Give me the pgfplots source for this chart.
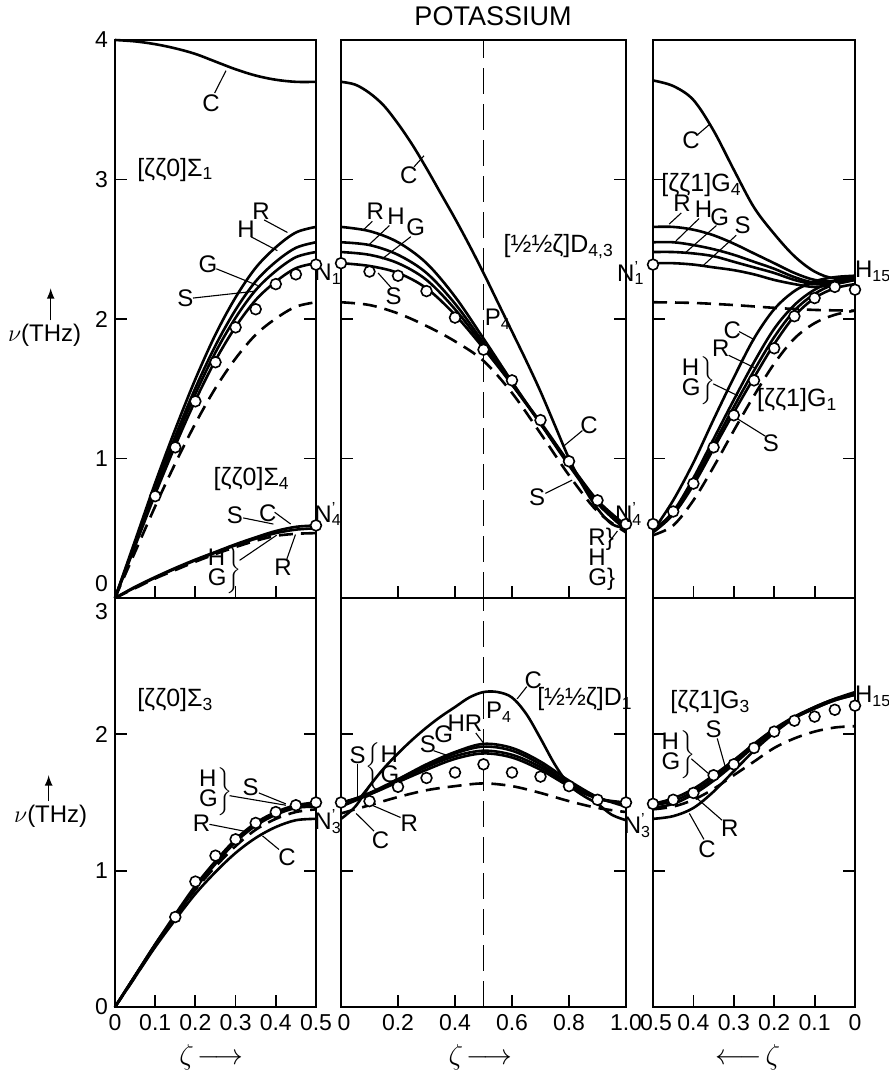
\documentclass[border=0pt]{standalone}
\usepackage{fontspec}
\setmainfont{Liberation Sans}
\usepackage{pgfplots}
\pgfplotsset{compat=1.18}
\newcommand{\lbl}{\fontsize{12}{13}\selectfont}
\newcommand{\ttl}{\fontsize{12.5}{14}\selectfont}
\newcommand{\tck}{\fontsize{11.5}{13}\selectfont}
\newcommand{\Np}[1]{N\rlap{\textsuperscript{\textquoteright}}\textsubscript{#1}}
\newcommand{\HG}{$\left.\begin{tabular}{@{}l@{}}H\\[-3pt]G\end{tabular}\right\}$}
\newcommand{\GH}{$\left\{\begin{tabular}{@{}l@{}}H\\[-3pt]G\end{tabular}\right.$}
\tikzset{
  cur/.style={line width=1.3pt, smooth, tension=0.55},
  das/.style={cur, dash pattern=on 7pt off 4pt},
  dat/.style={only marks, mark=*, mark size=2.7pt, mark options={fill=white, draw=black, line width=0.8pt, solid}},
  lead/.style={line width=0.55pt},
  lab/.style={font=\lbl, inner sep=0pt},
  pt/.style={font=\ttl, inner sep=0pt},
  vdash/.style={line width=0.9pt, dash pattern=on 13pt off 5pt},
}
\pgfplotsset{
  panel/.style={scale only axis, clip=false, anchor=south west,
    axis line style={line width=1.1pt},
    tick style={black, line width=0.9pt},
    major tick length=6pt, tick align=inside,
    xtick pos=left, ytick pos=both, yticklabel pos=left,
    tick label style={font=\tck},
  },
}
\begin{document}
\begin{tikzpicture}
\path[use as bounding box] (0,0) rectangle (444pt,537.5pt);
\node[font=\fontsize{13.5}{15}\selectfont] at (246.5pt,529.5pt) {POTASSIUM};

% ---------------- top left ----------------
\begin{axis}[panel, at={(57.5pt,238.5pt)}, width=100.5pt, height=279pt,
  xmin=0, xmax=0.5, ymin=0, ymax=4,
  xtick={0.1,0.2,0.3,0.4}, xticklabels={},
  ytick={1,2,3,4}, yticklabels={1,2,3,4}]
\addplot[cur] coordinates {(0,4.00)(0.05,3.99)(0.1,3.97)(0.15,3.94)(0.2,3.90)(0.25,3.845)(0.3,3.79)(0.35,3.745)(0.4,3.715)(0.45,3.70)(0.5,3.70)};
\addplot[cur] coordinates {(0,0)(0.05,0.412)(0.1,0.825)(0.15,1.21)(0.2,1.569)(0.25,1.889)(0.3,2.155)(0.35,2.367)(0.4,2.514)(0.45,2.62)(0.5,2.66)};
\addplot[cur] coordinates {(0,0)(0.05,0.395)(0.1,0.79)(0.15,1.16)(0.2,1.505)(0.25,1.81)(0.3,2.066)(0.35,2.27)(0.4,2.41)(0.45,2.51)(0.5,2.55)};
\addplot[cur] coordinates {(0,0)(0.05,0.384)(0.1,0.769)(0.15,1.128)(0.2,1.463)(0.25,1.761)(0.3,2.009)(0.35,2.207)(0.4,2.344)(0.45,2.443)(0.5,2.48)};
\addplot[cur] coordinates {(0,0)(0.05,0.372)(0.1,0.744)(0.15,1.092)(0.2,1.416)(0.25,1.704)(0.3,1.944)(0.35,2.136)(0.4,2.268)(0.45,2.364)(0.5,2.40)};
\addplot[das] coordinates {(0,0)(0.05,0.33)(0.1,0.657)(0.15,0.965)(0.2,1.251)(0.25,1.505)(0.3,1.717)(0.35,1.887)(0.4,2.003)(0.45,2.088)(0.5,2.12)};
\addplot[cur] coordinates {(0,0)(0.05,0.08)(0.1,0.15)(0.15,0.215)(0.2,0.275)(0.25,0.33)(0.3,0.385)(0.35,0.435)(0.4,0.48)(0.45,0.51)(0.5,0.52)};
\addplot[cur] coordinates {(0,0)(0.05,0.075)(0.1,0.145)(0.15,0.21)(0.2,0.27)(0.25,0.325)(0.3,0.378)(0.35,0.425)(0.4,0.465)(0.45,0.49)(0.5,0.50)};
\addplot[das] coordinates {(0,0)(0.05,0.07)(0.1,0.14)(0.15,0.20)(0.2,0.26)(0.25,0.315)(0.3,0.365)(0.35,0.41)(0.4,0.445)(0.45,0.46)(0.5,0.465)};
\addplot[dat] coordinates {(0.1,0.73)(0.15,1.08)(0.2,1.41)(0.25,1.69)(0.3,1.94)(0.35,2.07)(0.4,2.25)(0.45,2.32)(0.5,2.39)(0.5,0.52)};
\node[font=\tck, anchor=east, inner sep=0.333em, yshift=7pt] at (axis cs:0,0) {0};
\node[font=\lbl] at (axis cs:-0.175,1.88) {$\nu$(THz)};
\draw[-latex, line width=0.8pt] (axis cs:-0.16,1.99) -- (axis cs:-0.16,2.22);
\node[lab] at (axis cs:0.239,3.55) {C}; \draw[lead] (axis cs:0.248,3.62) -- (axis cs:0.276,3.78);
\node[pt] at (axis cs:0.15,3.07) {[ζζ0]Σ\textsubscript{1}};
\node[lab] at (axis cs:0.363,2.77) {R}; \draw[lead] (axis cs:0.371,2.71) -- (axis cs:0.429,2.62);
\node[lab] at (axis cs:0.326,2.645) {H}; \draw[lead] (axis cs:0.338,2.59) -- (axis cs:0.404,2.49);
\node[lab] at (axis cs:0.231,2.39) {G}; \draw[lead] (axis cs:0.252,2.36) -- (axis cs:0.355,2.24);
\node[lab] at (axis cs:0.175,2.15) {S}; \draw[lead] (axis cs:0.194,2.15) -- (axis cs:0.351,2.20);
\node[lab] at (axis cs:0.53,2.32) {N\textsubscript{1}};
\node[pt] at (axis cs:0.34,0.85) {[ζζ0]Σ\textsubscript{4}};
\node[lab] at (axis cs:0.298,0.59) {S}; \draw[lead] (axis cs:0.319,0.574) -- (axis cs:0.394,0.53);
\node[lab] at (axis cs:0.38,0.61) {C}; \draw[lead] (axis cs:0.397,0.615) -- (axis cs:0.437,0.53);
\node[lab] at (axis cs:0.27,0.20) {\HG}; \draw[lead] (axis cs:0.31,0.27) -- (axis cs:0.402,0.45);
\node[lab] at (axis cs:0.418,0.22) {R}; \draw[lead] (axis cs:0.427,0.275) -- (axis cs:0.449,0.455);
\node[lab] at (axis cs:0.53,0.6) {\Np{4}};
\end{axis}

% ---------------- top middle ----------------
\begin{axis}[panel, at={(170.5pt,238.5pt)}, width=142.5pt, height=279pt,
  xmin=0, xmax=1, ymin=0, ymax=4,
  xtick={0.2,0.4,0.6,0.8}, xticklabels={},
  ytick={1,2,3}, yticklabels={}]
\addplot[vdash] coordinates {(0.5,0)(0.5,4)};
\addplot[cur] coordinates {(0,3.70)(0.05,3.68)(0.1,3.62)(0.15,3.53)(0.2,3.40)(0.25,3.25)(0.3,3.08)(0.35,2.90)(0.4,2.72)(0.45,2.53)(0.5,2.33)(0.55,2.12)(0.6,1.91)(0.65,1.70)(0.7,1.48)(0.75,1.24)(0.8,1.00)(0.85,0.80)(0.9,0.64)(0.95,0.53)(1.0,0.50)};
\addplot[cur] coordinates {(0,2.66)(0.1,2.63)(0.2,2.55)(0.3,2.40)(0.4,2.16)(0.5,1.86)(0.6,1.55)(0.7,1.25)(0.8,0.95)(0.9,0.68)(1.0,0.50)};
\addplot[cur] coordinates {(0,2.55)(0.1,2.53)(0.2,2.46)(0.3,2.33)(0.4,2.11)(0.5,1.83)(0.6,1.54)(0.7,1.25)(0.8,0.96)(0.9,0.68)(1.0,0.49)};
\addplot[cur] coordinates {(0,2.48)(0.1,2.46)(0.2,2.40)(0.3,2.28)(0.4,2.07)(0.5,1.81)(0.6,1.53)(0.7,1.25)(0.8,0.96)(0.9,0.68)(1.0,0.49)};
\addplot[cur] coordinates {(0,2.40)(0.1,2.38)(0.2,2.33)(0.3,2.22)(0.4,2.03)(0.5,1.79)(0.6,1.53)(0.7,1.26)(0.8,0.97)(0.9,0.70)(1.0,0.52)};
\addplot[das] coordinates {(0,2.12)(0.1,2.10)(0.2,2.04)(0.3,1.95)(0.4,1.84)(0.5,1.70)(0.6,1.47)(0.7,1.18)(0.8,0.88)(0.9,0.62)(1.0,0.47)};
\addplot[dat] coordinates {(0,2.40)(0.1,2.34)(0.2,2.31)(0.3,2.20)(0.4,2.01)(0.5,1.78)(0.6,1.56)(0.7,1.275)(0.8,0.98)(0.9,0.70)(1.0,0.53)};
\node[lab] at (axis cs:0.238,3.03) {C}; \draw[lead] (axis cs:0.256,3.09) -- (axis cs:0.291,3.17);
\node[lab] at (axis cs:0.12,2.77) {R}; \draw[lead] (axis cs:0.079,2.64) -- (axis cs:0.11,2.70);
\node[lab] at (axis cs:0.193,2.74) {H}; \draw[lead] (axis cs:0.097,2.53) -- (axis cs:0.17,2.67);
\node[lab] at (axis cs:0.262,2.66) {G}; \draw[lead] (axis cs:0.144,2.43) -- (axis cs:0.245,2.59);
\node[lab] at (axis cs:0.185,2.16) {S}; \draw[lead] (axis cs:0.178,2.22) -- (axis cs:0.13,2.33);
\node[pt] at (axis cs:0.764,2.52) {[½½ζ]D\textsubscript{4,3}};
\node[lab] at (axis cs:0.55,2.0) {P\textsubscript{4}};
\node[lab] at (axis cs:0.87,1.24) {C}; \draw[lead] (axis cs:0.847,1.20) -- (axis cs:0.782,1.09);
\node[lab] at (axis cs:0.688,0.72) {S}; \draw[lead] (axis cs:0.717,0.75) -- (axis cs:0.811,0.845);
\node[lab] at (axis cs:0.915,0.27) {\begin{tabular}{@{}l@{}}R\}\\[-3pt]H\\[-3pt]G\}\end{tabular}}; \draw[lead] (axis cs:0.94,0.40) -- (axis cs:0.97,0.48);
\end{axis}

% ---------------- top right ----------------
\begin{axis}[panel, at={(326.5pt,238.5pt)}, width=101pt, height=279pt,
  x dir=reverse, xmin=0, xmax=0.5, ymin=0, ymax=4,
  xtick={0.1,0.2,0.3,0.4}, xticklabels={},
  ytick={1,2,3}, yticklabels={}]
\addplot[cur] coordinates {(0.5,3.71)(0.45,3.67)(0.4,3.57)(0.35,3.35)(0.3,3.07)(0.25,2.80)(0.2,2.61)(0.15,2.45)(0.1,2.34)(0.05,2.29)(0,2.31)};
\addplot[cur] coordinates {(0.5,2.66)(0.45,2.66)(0.4,2.64)(0.35,2.60)(0.3,2.54)(0.25,2.47)(0.2,2.40)(0.15,2.33)(0.1,2.28)(0.05,2.27)(0,2.30)};
\addplot[cur] coordinates {(0.5,2.55)(0.45,2.55)(0.4,2.53)(0.35,2.50)(0.3,2.46)(0.25,2.41)(0.2,2.36)(0.15,2.30)(0.1,2.26)(0.05,2.26)(0,2.29)};
\addplot[cur] coordinates {(0.5,2.48)(0.45,2.48)(0.4,2.47)(0.35,2.45)(0.3,2.41)(0.25,2.37)(0.2,2.33)(0.15,2.28)(0.1,2.25)(0.05,2.26)(0,2.29)};
\addplot[cur] coordinates {(0.5,2.40)(0.45,2.40)(0.4,2.39)(0.35,2.37)(0.3,2.35)(0.25,2.32)(0.2,2.28)(0.15,2.25)(0.1,2.23)(0.05,2.25)(0,2.28)};
\addplot[das] coordinates {(0.5,2.12)(0.4,2.115)(0.3,2.10)(0.2,2.08)(0.1,2.065)(0,2.06)};
\addplot[cur] coordinates {(0.5,0.48)(0.45,0.70)(0.4,0.97)(0.35,1.28)(0.3,1.58)(0.25,1.86)(0.2,2.07)(0.15,2.20)(0.1,2.27)(0.05,2.30)(0,2.31)};
\addplot[cur] coordinates {(0.5,0.48)(0.45,0.62)(0.4,0.86)(0.35,1.14)(0.3,1.42)(0.25,1.69)(0.2,1.93)(0.15,2.10)(0.1,2.21)(0.05,2.27)(0,2.29)};
\addplot[cur] coordinates {(0.5,0.47)(0.45,0.60)(0.4,0.83)(0.35,1.10)(0.3,1.37)(0.25,1.63)(0.2,1.87)(0.15,2.06)(0.1,2.18)(0.05,2.25)(0,2.28)};
\addplot[cur] coordinates {(0.5,0.50)(0.45,0.60)(0.4,0.81)(0.35,1.07)(0.3,1.33)(0.25,1.58)(0.2,1.82)(0.15,2.02)(0.1,2.15)(0.05,2.22)(0,2.25)};
\addplot[das] coordinates {(0.5,0.45)(0.45,0.52)(0.4,0.70)(0.35,0.94)(0.3,1.20)(0.25,1.45)(0.2,1.68)(0.15,1.86)(0.1,1.97)(0.05,2.03)(0,2.06)};
\addplot[dat] coordinates {(0.5,0.53)(0.45,0.62)(0.4,0.82)(0.35,1.08)(0.3,1.31)(0.25,1.56)(0.2,1.79)(0.15,2.02)(0.1,2.15)(0.05,2.23)(0,2.21)(0.5,2.39)};
\node[lab] at (axis cs:0.406,3.28) {C}; \draw[lead] (axis cs:0.39,3.32) -- (axis cs:0.358,3.40);
\node[pt] at (axis cs:0.38,2.96) {[ζζ1]G\textsubscript{4}};
\node[lab] at (axis cs:0.428,2.83) {R}; \draw[lead] (axis cs:0.43,2.76) -- (axis cs:0.46,2.68);
\node[lab] at (axis cs:0.375,2.79) {H}; \draw[lead] (axis cs:0.386,2.72) -- (axis cs:0.443,2.56);
\node[lab] at (axis cs:0.335,2.73) {G}; \draw[lead] (axis cs:0.343,2.67) -- (axis cs:0.418,2.48);
\node[lab] at (axis cs:0.278,2.67) {S}; \draw[lead] (axis cs:0.294,2.60) -- (axis cs:0.377,2.38);
\node[lab] at (axis cs:0.555,2.33) {\Np{1}};
\node[lab] at (axis cs:-0.045,2.34) {H\textsubscript{15}};
\node[lab] at (axis cs:0.304,1.92) {C}; \draw[lead] (axis cs:0.287,1.91) -- (axis cs:0.248,1.85);
\node[lab] at (axis cs:0.332,1.79) {R}; \draw[lead] (axis cs:0.313,1.74) -- (axis cs:0.248,1.65);
\node[lab] at (axis cs:0.39,1.56) {\HG}; \draw[lead] (axis cs:0.351,1.535) -- (axis cs:0.29,1.45);
\node[pt] at (axis cs:0.143,1.42) {[ζζ1]G\textsubscript{1}};
\node[lab] at (axis cs:0.208,1.11) {S}; \draw[lead] (axis cs:0.222,1.16) -- (axis cs:0.305,1.31);
\node[lab] at (axis cs:0.56,0.6) {\Np{4}};
\end{axis}

% ---------------- bottom left ----------------
\begin{axis}[panel, at={(57.5pt,34pt)}, width=100.5pt, height=204.5pt,
  xmin=0, xmax=0.5, ymin=0, ymax=3,
  xtick={0,0.1,0.2,0.3,0.4,0.5}, xticklabels={0,0.1,0.2,0.3,0.4,0.5\hspace{3pt}},
  ytick={0,1,2}, yticklabels={0,1,2}]
\addplot[cur] coordinates {(0,0)(0.05,0.22)(0.1,0.44)(0.15,0.64)(0.2,0.83)(0.25,0.99)(0.3,1.13)(0.35,1.24)(0.4,1.32)(0.45,1.37)(0.5,1.38)};
\addplot[cur] coordinates {(0,0)(0.05,0.23)(0.1,0.46)(0.15,0.68)(0.2,0.89)(0.25,1.07)(0.3,1.23)(0.35,1.35)(0.4,1.43)(0.45,1.48)(0.5,1.50)};
\addplot[cur] coordinates {(0,0)(0.05,0.23)(0.1,0.46)(0.15,0.67)(0.2,0.88)(0.25,1.06)(0.3,1.22)(0.35,1.34)(0.4,1.42)(0.45,1.47)(0.5,1.49)};
\addplot[cur] coordinates {(0,0)(0.05,0.23)(0.1,0.45)(0.15,0.66)(0.2,0.87)(0.25,1.05)(0.3,1.21)(0.35,1.33)(0.4,1.41)(0.45,1.46)(0.5,1.47)};
\addplot[das] coordinates {(0,0)(0.05,0.22)(0.1,0.45)(0.15,0.66)(0.2,0.86)(0.25,1.03)(0.3,1.18)(0.35,1.30)(0.4,1.38)(0.45,1.43)(0.5,1.45)};
\addplot[dat] coordinates {(0.15,0.66)(0.2,0.92)(0.25,1.11)(0.3,1.23)(0.35,1.35)(0.4,1.43)(0.45,1.48)(0.5,1.50)};
\node[font=\tck, anchor=east, inner sep=0.333em, yshift=-7pt] at (axis cs:0,3) {3};
\node[font=\lbl] at (axis cs:-0.16,1.40) {$\nu$(THz)};
\draw[-latex, line width=0.8pt] (axis cs:-0.165,1.51) -- (axis cs:-0.165,1.70);
\node[font=\fontsize{15}{16}\selectfont] at (axis cs:0.24,-0.37) {$\zeta\!\longrightarrow$};
\node[pt] at (axis cs:0.15,2.25) {[ζζ0]Σ\textsubscript{3}};
\node[lab] at (axis cs:0.248,1.58) {\HG}; \draw[lead] (axis cs:0.285,1.55) -- (axis cs:0.425,1.48);
\node[lab] at (axis cs:0.3375,1.61) {S}; \draw[lead] (axis cs:0.358,1.57) -- (axis cs:0.425,1.49);
\node[lab] at (axis cs:0.215,1.35) {R}; \draw[lead] (axis cs:0.235,1.34) -- (axis cs:0.321,1.29);
\node[lab] at (axis cs:0.428,1.10) {C}; \draw[lead] (axis cs:0.408,1.155) -- (axis cs:0.367,1.255);
\node[lab] at (axis cs:0.53,1.36) {\Np{3}};
\end{axis}

% ---------------- bottom middle ----------------
\begin{axis}[panel, at={(170.5pt,34pt)}, width=142.5pt, height=204.5pt,
  xmin=0, xmax=1, ymin=0, ymax=3,
  xtick={0,0.2,0.4,0.6,0.8,1}, xticklabels={\hspace{3pt}0,0.2,0.4,0.6,0.8,1.0\hspace{3pt}},
  ytick={1,2}, yticklabels={}]
\addplot[vdash] coordinates {(0.5,0)(0.5,3)};
\addplot[cur] coordinates {(0,1.38)(0.05,1.47)(0.1,1.62)(0.15,1.75)(0.2,1.86)(0.25,1.96)(0.3,2.05)(0.35,2.13)(0.4,2.20)(0.45,2.27)(0.5,2.31)(0.55,2.31)(0.6,2.27)(0.65,2.15)(0.7,1.97)(0.75,1.78)(0.8,1.63)(0.85,1.55)(0.9,1.49)(0.95,1.41)(1.0,1.37)};
\addplot[cur] coordinates {(0,1.47)(0.1,1.56)(0.2,1.67)(0.3,1.78)(0.4,1.87)(0.5,1.93)(0.6,1.90)(0.7,1.80)(0.8,1.66)(0.9,1.54)(1.0,1.47)};
\addplot[cur] coordinates {(0,1.49)(0.1,1.57)(0.2,1.67)(0.3,1.77)(0.4,1.86)(0.5,1.91)(0.6,1.88)(0.7,1.78)(0.8,1.64)(0.9,1.53)(1.0,1.49)};
\addplot[cur] coordinates {(0,1.49)(0.1,1.56)(0.2,1.66)(0.3,1.76)(0.4,1.84)(0.5,1.88)(0.6,1.85)(0.7,1.76)(0.8,1.63)(0.9,1.53)(1.0,1.49)};
\addplot[cur] coordinates {(0,1.50)(0.1,1.56)(0.2,1.65)(0.3,1.74)(0.4,1.82)(0.5,1.86)(0.6,1.83)(0.7,1.74)(0.8,1.62)(0.9,1.53)(1.0,1.50)};
\addplot[das] coordinates {(0,1.42)(0.1,1.48)(0.2,1.54)(0.3,1.59)(0.4,1.62)(0.5,1.64)(0.6,1.62)(0.7,1.57)(0.8,1.51)(0.9,1.46)(1.0,1.43)};
\addplot[dat] coordinates {(0,1.50)(0.1,1.51)(0.2,1.615)(0.3,1.68)(0.4,1.72)(0.5,1.78)(0.6,1.72)(0.7,1.69)(0.8,1.62)(0.9,1.52)(1.0,1.50)};
\node[font=\fontsize{15}{16}\selectfont] at (axis cs:0.49,-0.37) {$\zeta\!\longrightarrow$};
\node[lab] at (axis cs:0.058,1.85) {S}; \draw[lead] (axis cs:0.058,1.78) -- (axis cs:0.058,1.52);
\node[lab] at (axis cs:0.15,1.76) {\GH}; \draw[lead] (axis cs:0.112,1.66) -- (axis cs:0.07,1.55);
\node[lab] at (axis cs:0.24,1.35) {R}; \draw[lead] (axis cs:0.209,1.39) -- (axis cs:0.098,1.49);
\node[lab] at (axis cs:0.139,1.22) {C}; \draw[lead] (axis cs:0.116,1.29) -- (axis cs:0.053,1.42);
\node[lab] at (axis cs:0.305,1.93) {S}; \draw[lead] (axis cs:0.325,1.88) -- (axis cs:0.38,1.84);
\node[lab] at (axis cs:0.36,2.0) {G};
\node[lab] at (axis cs:0.435,2.08) {HR}; \draw[lead] (axis cs:0.473,2.01) -- (axis cs:0.502,1.93);
\node[lab] at (axis cs:0.675,2.40) {C}; \draw[lead] (axis cs:0.652,2.35) -- (axis cs:0.618,2.26);
\node[lab] at (axis cs:0.555,2.16) {P\textsubscript{4}};
\node[pt] at (axis cs:0.856,2.26) {[½½ζ]D\textsubscript{1}};
\node[lab] at (axis cs:1.04,1.33) {\Np{3}};
\end{axis}

% ---------------- bottom right ----------------
\begin{axis}[panel, at={(326.5pt,34pt)}, width=101pt, height=204.5pt,
  x dir=reverse, xmin=0, xmax=0.5, ymin=0, ymax=3,
  xtick={0,0.1,0.2,0.3,0.4,0.5}, xticklabels={0,0.1,0.2,0.3,0.4,\hspace{3pt}0.5},
  ytick={1,2}, yticklabels={}]
\addplot[cur] coordinates {(0.5,1.38)(0.45,1.40)(0.4,1.46)(0.35,1.58)(0.3,1.73)(0.25,1.88)(0.2,2.01)(0.15,2.12)(0.1,2.20)(0.05,2.26)(0,2.31)};
\addplot[cur] coordinates {(0.5,1.49)(0.45,1.53)(0.4,1.60)(0.35,1.70)(0.3,1.81)(0.25,1.93)(0.2,2.04)(0.15,2.13)(0.1,2.20)(0.05,2.26)(0,2.30)};
\addplot[cur] coordinates {(0.5,1.48)(0.45,1.51)(0.4,1.58)(0.35,1.68)(0.3,1.80)(0.25,1.92)(0.2,2.03)(0.15,2.12)(0.1,2.19)(0.05,2.25)(0,2.29)};
\addplot[cur] coordinates {(0.5,1.46)(0.45,1.49)(0.4,1.56)(0.35,1.66)(0.3,1.78)(0.25,1.91)(0.2,2.02)(0.15,2.12)(0.1,2.19)(0.05,2.25)(0,2.29)};
\addplot[das] coordinates {(0.5,1.45)(0.45,1.47)(0.4,1.52)(0.35,1.60)(0.3,1.70)(0.25,1.80)(0.2,1.90)(0.15,1.97)(0.1,2.02)(0.05,2.05)(0,2.06)};
\addplot[dat] coordinates {(0.5,1.49)(0.45,1.52)(0.4,1.57)(0.35,1.70)(0.3,1.78)(0.25,1.90)(0.2,2.02)(0.15,2.10)(0.1,2.13)(0.05,2.18)(0,2.21)};
\node[font=\fontsize{15}{16}\selectfont] at (axis cs:0.265,-0.37) {$\longleftarrow\!\zeta$};
\node[pt] at (axis cs:0.358,2.24) {[ζζ1]G\textsubscript{3}};
\node[lab] at (axis cs:0.35,2.04) {S}; \draw[lead] (axis cs:0.341,1.97) -- (axis cs:0.321,1.76);
\node[lab] at (axis cs:0.44,1.85) {\HG}; \draw[lead] (axis cs:0.405,1.82) -- (axis cs:0.35,1.68);
\node[lab] at (axis cs:0.31,1.31) {R}; \draw[lead] (axis cs:0.329,1.37) -- (axis cs:0.391,1.53);
\node[lab] at (axis cs:0.366,1.16) {C}; \draw[lead] (axis cs:0.374,1.23) -- (axis cs:0.41,1.42);
\node[lab] at (axis cs:-0.045,2.28) {H\textsubscript{15}};
\end{axis}
\end{tikzpicture}
\end{document}
